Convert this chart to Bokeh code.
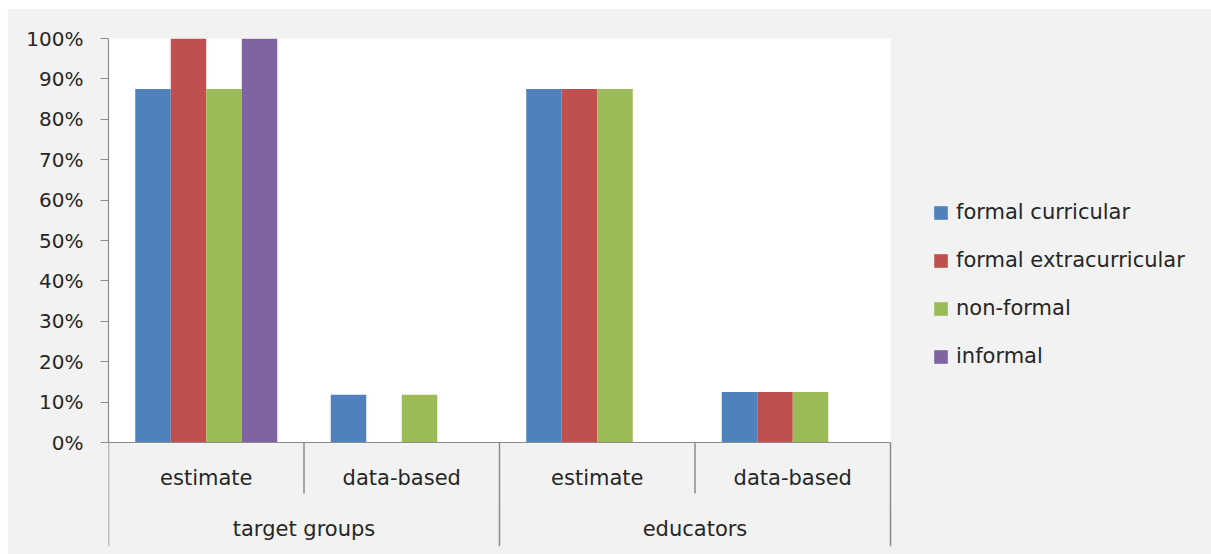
from bokeh.plotting import figure
from bokeh.models import (ColumnDataSource, NumeralTickFormatter, Legend, Range1d,
                          LegendItem, BoxAnnotation, FixedTicker)
from bokeh.transform import dodge
from bokeh.embed import file_html
from bokeh.resources import INLINE
from bokeh.core.properties import value

groups = ["target groups", "educators"]
subgroups = ["estimate", "data-based"]
series = ["formal curricular", "formal extracurricular", "non-formal", "informal"]
colors = ["#4f81bd", "#c0504d", "#9bbb59", "#8064a2"]

formal_curricular = [0.875, 0.118, 0.875, 0.125]
formal_extracurricular = [1.0, 0.0, 0.875, 0.125]
non_formal = [0.875, 0.118, 0.875, 0.125]
informal = [1.0, 0.0, 0.0, 0.0]
values = [formal_curricular, formal_extracurricular, non_formal, informal]

y_ticks = [0, 0.1, 0.2, 0.3, 0.4, 0.5, 0.6, 0.7, 0.8, 0.9, 1.0]

# category positions: one unit per (group, subgroup) pair
cats = [(g, s) for g in groups for s in subgroups]
cat_x = list(range(len(cats)))
n_cat = len(cats)

data = dict(x=cat_x, sub=[c[1] for c in cats])
for name, vals in zip(series, values):
    data[name] = vals
source = ColumnDataSource(data)

FONT = "DejaVu Sans"
TXT = "#262626"
AX = "#8c8c8c"

W_FIG, H_FIG = 1204, 546
LEFT, TOP, BOTTOM = 101, 30, 8
frame_w = W_FIG - LEFT
unit_px = 782.0 / n_cat
x_start = -0.5
x_end = x_start + frame_w / unit_px

y_bottom = -0.2574
p = figure(width=W_FIG, height=H_FIG, output_backend="svg", toolbar_location=None,
           x_range=Range1d(x_start, x_end), y_range=Range1d(y_bottom, 1.0),
           min_border_left=LEFT, min_border_right=0, min_border_top=TOP,
           min_border_bottom=BOTTOM)
p.margin = (8, 0, 0, 7)
p.background_fill_color = "#f2f2f2"
p.border_fill_color = "#f2f2f2"
p.outline_line_color = None
p.xgrid.visible = False
p.ygrid.visible = False
p.xaxis.visible = False

# white plot area
p.add_layout(BoxAnnotation(left=-0.5, right=n_cat - 0.5, bottom=0, top=1.0,
                           fill_color="white", fill_alpha=1.0, line_color=None,
                           level="underlay"))

w = 0.1816
offsets = [-1.5 * w, -0.5 * w, 0.5 * w, 1.5 * w]
renderers = []
for name, col, off in zip(series, colors, offsets):
    r = p.vbar(x=dodge("x", off), top=name, width=w, bottom=0,
               source=source, fill_color=col, line_color=None)
    renderers.append(r)

# horizontal category axis line
p.segment(x0=-0.5, x1=n_cat - 0.5, y0=0, y1=0, line_color=AX, line_width=1.2)

# separators: long at group boundaries, short between subgroups
edges = [i - 0.5 for i in range(n_cat + 1)]
long_edges = [e for i, e in enumerate(edges) if i % len(subgroups) == 0]
short_edges = [e for i, e in enumerate(edges) if i % len(subgroups) != 0]
p.segment(x0=long_edges, x1=long_edges, y0=0, y1=y_bottom, line_color=AX, line_width=1.5)
p.segment(x0=short_edges, x1=short_edges, y0=0, y1=-0.126, line_color=AX, line_width=1.5)

# category labels
p.text(x="x", y=-0.089, text="sub", source=source,
       text_font=value(FONT), text_font_size="21px", text_color=TXT,
       text_align="center", text_baseline="middle")
gx = [i * len(subgroups) + (len(subgroups) - 1) / 2 for i in range(len(groups))]
p.text(x=gx, y=-0.213, text=groups,
       text_font=value(FONT), text_font_size="21px", text_color=TXT,
       text_align="center", text_baseline="middle")

ya = p.yaxis[0]
ya.bounds = (0, 1.0)
ya.ticker = FixedTicker(ticks=y_ticks)
ya.formatter = NumeralTickFormatter(format="0%")
ya.axis_line_color = AX
ya.axis_line_width = 1.2
ya.major_tick_line_color = AX
ya.minor_tick_line_color = None
ya.major_tick_in = 0
ya.major_tick_out = 8
ya.major_label_standoff = 17
ya.major_label_text_font = FONT
ya.major_label_text_font_size = "20px"
ya.major_label_text_color = TXT

legend = Legend(items=[LegendItem(label=n, renderers=[r]) for n, r in zip(series, renderers)],
                location=(824, 178), padding=10,
                background_fill_alpha=0, border_line_color=None,
                label_text_font=FONT, label_text_font_size="21px", label_text_color=TXT,
                glyph_width=17, glyph_height=17, spacing=24, label_standoff=7)
p.add_layout(legend, "center")

open("out.html", "w").write(file_html(p, INLINE))
